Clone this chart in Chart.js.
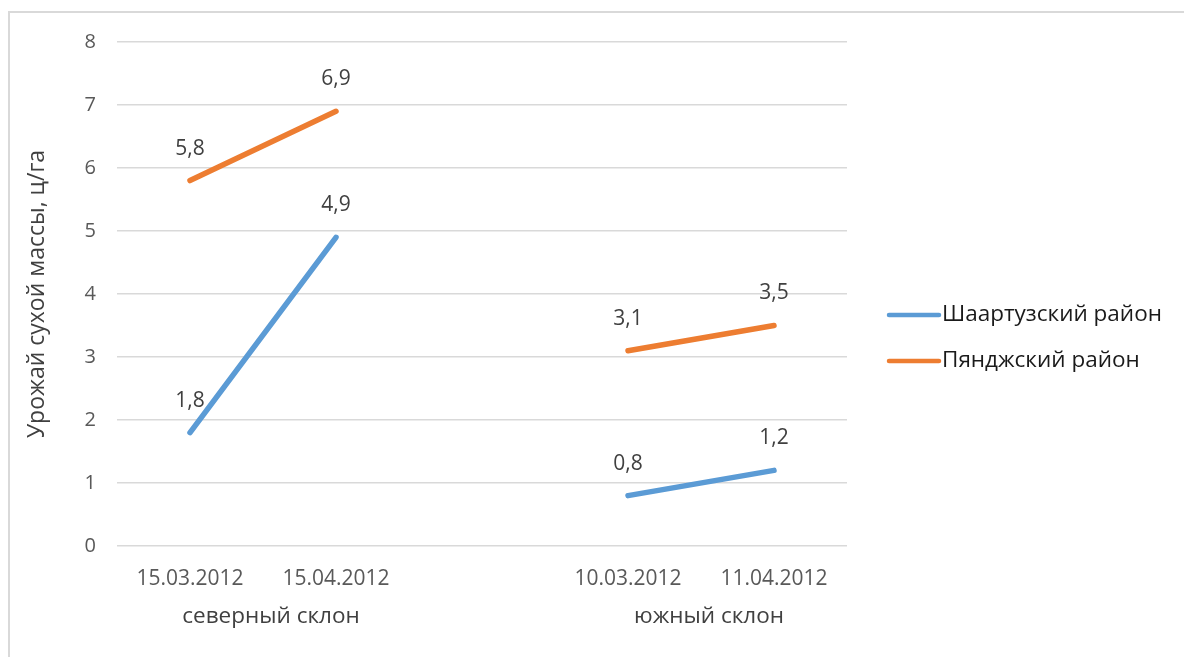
<!DOCTYPE html>
<html>
<head>
<meta charset="utf-8">
<script src="https://cdn.jsdelivr.net/npm/chart.js@4/dist/chart.umd.min.js"></script>
<style>
    body { margin: 0; background: #fff; overflow: hidden; }
    #wrap { position: relative; width: 1184px; height: 657px; }
    #frame { position: absolute; left: 8px; top: 11px; width: 1300px; height: 800px;
             border-top: 2px solid #d9d9d9; border-left: 2px solid #d9d9d9; }
    canvas { position: absolute; left: 0; top: 0; }
</style>
</head>
<body>
<div id="wrap">
    <div id="frame"></div>
    <canvas id="yieldChart" width="1184" height="657"></canvas>
</div>
<script>
const dates = ['15.03.2012', '15.04.2012', '', '10.03.2012', '11.04.2012'];
const groupNames = ['северный склон', 'южный склон'];
const groupRanges = [[0, 1], [3, 4]];
const shaartuz = [1.8, 4.9, null, 0.8, 1.2];
const pyandzh = [5.8, 6.9, null, 3.1, 3.5];
const seriesNames = ['Шаартузский район', 'Пянджский район'];
const seriesColors = ['#5b9bd5', '#ed7d31'];

const FONT = "'Open Sans', sans-serif";

// value labels above each point
const valueLabels = {
    id: 'valueLabels',
    afterDatasetsDraw(chart) {
        const ctx = chart.ctx;
        ctx.save();
        ctx.font = '21px ' + FONT;
        ctx.fillStyle = '#404040';
        ctx.textAlign = 'center';
        ctx.textBaseline = 'middle';
        chart.data.datasets.forEach((ds, i) => {
            chart.getDatasetMeta(i).data.forEach((pt, j) => {
                const v = ds.data[j];
                if (v === null) return;
                ctx.fillText(String(v).replace('.', ','), pt.x, pt.y - 32);
            });
        });
        ctx.restore();
    }
};

// category group labels under the dates
const groupLabels = {
    id: 'groupLabels',
    afterDraw(chart) {
        const ctx = chart.ctx;
        const xs = chart.scales.x;
        ctx.save();
        ctx.font = '22.5px ' + FONT;
        ctx.fillStyle = '#404040';
        ctx.textAlign = 'center';
        ctx.textBaseline = 'middle';
        groupNames.forEach((name, i) => {
            const [a, b] = groupRanges[i];
            const cx = (xs.getPixelForValue(a) + xs.getPixelForValue(b)) / 2 + 8;
            ctx.fillText(name, cx, chart.chartArea.bottom + 71);
        });
        ctx.restore();
    }
};

// legend on the right
const sideLegend = {
    id: 'sideLegend',
    afterDraw(chart) {
        const ctx = chart.ctx;
        const area = chart.chartArea;
        const x0 = area.right + 40;
        const midY = (area.top + area.bottom) / 2;
        ctx.save();
        ctx.font = '22.5px ' + FONT;
        ctx.textBaseline = 'middle';
        ctx.fillStyle = '#1a1a1a';
        seriesNames.forEach((name, i) => {
            const y = midY + 21 + i * 46;
            ctx.strokeStyle = seriesColors[i];
            ctx.lineWidth = 4.5;
            ctx.lineCap = 'round';
            ctx.beginPath();
            ctx.moveTo(x0 + 2, y);
            ctx.lineTo(x0 + 52, y);
            ctx.stroke();
            ctx.fillText(name, x0 + 55, y);
        });
        ctx.restore();
    }
};

const ctx = document.getElementById('yieldChart').getContext('2d');

new Chart(ctx, {
    type: 'line',
    data: {
        labels: dates,
        datasets: [
            {
                label: seriesNames[0],
                data: shaartuz,
                borderColor: seriesColors[0],
                backgroundColor: seriesColors[0],
                borderWidth: 5.5,
                borderCapStyle: 'round',
                pointRadius: 0,
                spanGaps: false,
            },
            {
                label: seriesNames[1],
                data: pyandzh,
                borderColor: seriesColors[1],
                backgroundColor: seriesColors[1],
                borderWidth: 5.5,
                borderCapStyle: 'round',
                pointRadius: 0,
                spanGaps: false,
            }
        ]
    },
    options: {
        responsive: false,
        animation: false,
        layout: {
            padding: { top: 42, right: 337, left: 0, bottom: 0 }
        },
        plugins: {
            legend: { display: false },
            tooltip: { enabled: false }
        },
        scales: {
            x: {
                offset: true,
                grid: { display: false, drawTicks: false },
                border: { display: false },
                ticks: {
                    padding: 20,
                    color: '#595959',
                    font: { family: FONT, size: 21 },
                    maxRotation: 0,
                    autoSkip: false
                },
                afterFit(scale) { scale.height = 111; }
            },
            y: {
                min: 0,
                max: 8,
                grid: { color: '#d9d9d9', lineWidth: 1.5, drawTicks: false },
                border: { display: false },
                ticks: {
                    stepSize: 1,
                    padding: 21,
                    color: '#595959',
                    font: { family: FONT, size: 20 }
                },
                title: {
                    display: true,
                    text: 'Урожай сухой массы, ц/га',
                    color: '#404040',
                    font: { family: FONT, size: 23 },
                    padding: { top: 24, bottom: 0 }
                },
                afterFit(scale) { scale.width = 117; }
            }
        }
    },
    plugins: [valueLabels, groupLabels, sideLegend]
});
</script>
</body>
</html>
